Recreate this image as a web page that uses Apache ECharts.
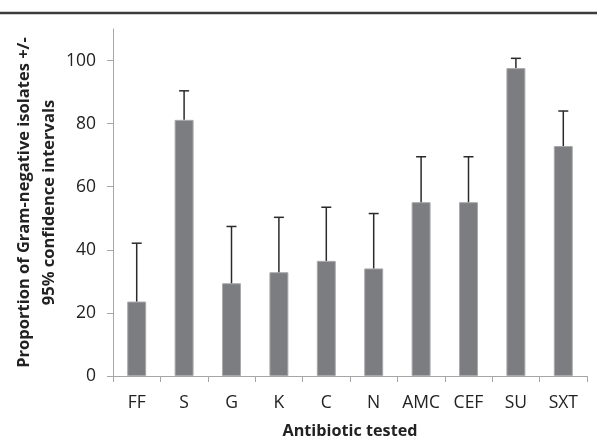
<!DOCTYPE html>
<html>
<head>
<meta charset="utf-8">
<script src="https://cdn.jsdelivr.net/npm/echarts@6/dist/echarts.min.js"></script>
<style>html,body{margin:0;padding:0;background:#fff}#c{width:597px;height:438px}</style>
</head>
<body>
<div id="c"></div>
<script>
const categories = ['FF','S','G','K','C','N','AMC','CEF','SU','SXT'];
const proportions = [23.6, 81.2, 29.4, 32.9, 36.5, 34.1, 55.1, 55.1, 97.6, 72.9];
const upperCI = [42.1, 90.4, 47.4, 50.3, 53.5, 51.5, 69.5, 69.5, 100.7, 84.0];
const yTicks = [0, 20, 40, 60, 80, 100];

const chart = echarts.init(document.getElementById('c'));
const font = 'Open Sans';
chart.setOption({
  animation: false,
  grid: {left: 113, right: 10, top: 29, bottom: 62, outerBoundsMode: 'none', containLabel: false},
  graphic: [{
    type: 'line', shape: {x1: 0, y1: 13, x2: 597, y2: 13},
    style: {stroke: '#3c3c3c', lineWidth: 2.5}
  }],
  xAxis: {
    type: 'category',
    data: categories,
    axisLine: {lineStyle: {color: '#a6a6a6', width: 1}},
    axisTick: {show: true, length: 6, interval: 0, lineStyle: {color: '#a6a6a6'}},
    axisLabel: {color: '#222', fontFamily: font, fontSize: 17.5, margin: 18, interval: 0},
    name: 'Antibiotic tested',
    nameLocation: 'middle',
    nameGap: 47,
    nameMoveOverlap: false,
    nameTextStyle: {color: '#222', fontFamily: font, fontSize: 16.2, fontWeight: 'bold'}
  },
  yAxis: {
    type: 'value',
    min: 0, max: 110,
    axisLine: {show: true, lineStyle: {color: '#a6a6a6', width: 1}},
    axisTick: {show: true, length: 6, lineStyle: {color: '#a6a6a6'}, customValues: yTicks},
    axisLabel: {color: '#222', fontFamily: font, fontSize: 17.5, margin: 17, customValues: yTicks},
    splitLine: {show: false},
    name: 'Proportion of Gram-negative isolates +/-\n95% confidence intervals',
    nameLocation: 'middle',
    nameGap: 51,
    nameMoveOverlap: false,
    nameTextStyle: {color: '#222', fontFamily: font, fontSize: 16.5, fontWeight: 'bold', lineHeight: 25, align: 'center'}
  },
  series: [{
    type: 'bar',
    data: proportions,
    barWidth: '40%',
    itemStyle: {color: '#7c7d81', borderColor: '#a9a9ab', borderWidth: 1}
  }, {
    type: 'custom',
    data: categories.map((c, i) => [i, proportions[i], upperCI[i]]),
    renderItem: function (params, api) {
      const base = api.coord([api.value(0), api.value(1)]);
      const top = api.coord([api.value(0), api.value(2)]);
      const half = 5;
      return {
        type: 'group',
        children: [
          {type: 'line', shape: {x1: base[0], y1: base[1], x2: top[0], y2: top[1]}, style: {stroke: '#2a2a2a', lineWidth: 1.5}},
          {type: 'line', shape: {x1: top[0] - half, y1: top[1], x2: top[0] + half, y2: top[1]}, style: {stroke: '#2a2a2a', lineWidth: 1.5}}
        ]
      };
    },
    z: 3
  }]
});
</script>
</body>
</html>
